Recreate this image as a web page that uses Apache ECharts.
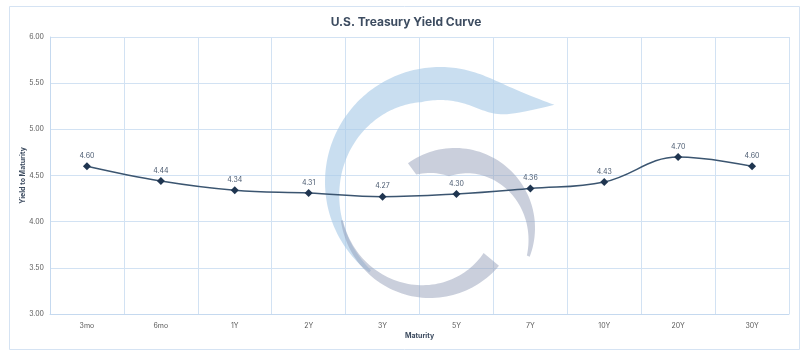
<!DOCTYPE html>
<html>
<head>
<meta charset="utf-8">
<script src="https://cdn.jsdelivr.net/npm/echarts@6/dist/echarts.min.js"></script>
<style>
html,body{margin:0;padding:0;background:#fff;}
#chart{width:812px;height:357px;}
</style>
</head>
<body>
<div id="chart"></div>
<script>
const categories = ['3mo','6mo','1Y','2Y','3Y','5Y','7Y','10Y','20Y','30Y'];
const yields = [4.60, 4.44, 4.34, 4.31, 4.27, 4.30, 4.36, 4.43, 4.70, 4.60];
const yTicks = { min: 3.0, max: 6.0, interval: 0.5 };
const titleText = 'U.S. Treasury Yield Curve';
const xAxisName = 'Maturity';
const yAxisName = 'Yield to Maturity';

// decorative watermark swoosh helper (outer / inner radius profiles)
function swoosh(cx, cy, a0, a1, rOut, rIn, n) {
  const outer = [], inner = [];
  for (let i = 0; i <= n; i++) {
    const s = i / n;
    const a = (a0 + (a1 - a0) * s) * Math.PI / 180;
    const ro = rOut(s), ri = rIn(s);
    outer.push([cx + ro * Math.cos(a), cy + ro * Math.sin(a)]);
    inner.push([cx + ri * Math.cos(a), cy + ri * Math.sin(a)]);
  }
  return outer.concat(inner.reverse());
}
const blueShape = swoosh(440, 182, -34, -232,
  s => s < 0.2 ? 115 + 23 * Math.pow(1 - s / 0.2, 3) : 115,
  s => s < 0.35 ? 82 + 56 * Math.pow(1 - s / 0.35, 8) : 82 + (s - 0.35) / 0.65 * 30,
  140);
const grayTop = swoosh(455, 228, -126, 21,
  s => 80,
  s => 80 - (s < 0.2 ? 14 + s / 0.2 * 14 : 28 - (s - 0.2) / 0.8 * 25),
  60);
const grayBottom = swoosh(430, 208, 172, 40,
  s => 90,
  s => 90 - (2 + s * 18),
  60);

const chart = echarts.init(document.getElementById('chart'), null, {renderer: 'canvas'});
const font = 'Inter, "Open Sans", sans-serif';
chart.setOption({
  animation: false,
  backgroundColor: '#ffffff',
  title: {
    text: titleText,
    left: 'center',
    top: 11,
    textStyle: { fontFamily: font, fontSize: 12, fontWeight: 'bold', color: '#3d4c60' }
  },
  graphic: [
    { type: 'rect', shape: { x: 9.5, y: 6.5, width: 790, height: 343 }, style: { fill: 'none', stroke: '#d5e3f3', lineWidth: 1 }, z: 0 },
    { type: 'polygon', shape: { points: blueShape }, style: { fill: 'rgba(168,202,230,0.62)' }, z: 1 },
    { type: 'polygon', shape: { points: grayTop }, style: { fill: 'rgba(150,160,185,0.5)' }, z: 1 },
    { type: 'polygon', shape: { points: grayBottom }, style: { fill: 'rgba(150,160,185,0.5)' }, z: 1 }
  ],
  grid: { left: 50, right: 23, top: 37, bottom: 43, containLabel: false },
  xAxis: {
    type: 'category',
    data: categories,
    boundaryGap: true,
    name: xAxisName,
    nameLocation: 'middle',
    nameGap: 18,
    nameMoveOverlap: false,
    nameTextStyle: { fontFamily: font, fontSize: 7, fontWeight: 'bold', color: '#3d4c60' },
    axisLine: { show: true, lineStyle: { color: '#c5d9ef', width: 1 } },
    axisTick: { show: false },
    axisLabel: { fontFamily: font, fontSize: 7, color: '#595959', margin: 8 },
    splitLine: { show: true, lineStyle: { color: '#d2e2f3', width: 1 } }
  },
  yAxis: {
    type: 'value',
    min: yTicks.min,
    max: yTicks.max,
    interval: yTicks.interval,
    name: yAxisName,
    nameLocation: 'middle',
    nameGap: 24,
    nameMoveOverlap: false,
    nameTextStyle: { fontFamily: font, fontSize: 7, fontWeight: 'bold', color: '#3d4c60' },
    axisLine: { show: true, lineStyle: { color: '#c5d9ef', width: 1 } },
    axisTick: { show: false },
    axisLabel: { fontFamily: font, fontSize: 7, color: '#595959', margin: 6,
      formatter: v => v.toFixed(2) },
    splitLine: { show: true, lineStyle: { color: '#d2e2f3', width: 1 } }
  },
  series: [{
    type: 'line',
    data: yields,
    smooth: 0.4,
    z: 5,
    symbol: 'diamond',
    symbolSize: 8,
    lineStyle: { color: '#3b5570', width: 1.5 },
    itemStyle: { color: '#1f3550' },
    label: {
      show: true,
      position: 'top',
      distance: 3,
      fontFamily: font,
      fontSize: 7,
      color: '#4a5a70',
      formatter: p => p.value.toFixed(2)
    }
  }]
});
</script>
</body>
</html>
